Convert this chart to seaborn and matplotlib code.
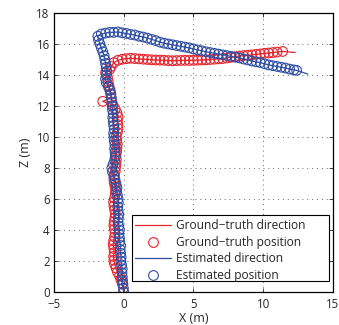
import matplotlib
matplotlib.use("Agg")
import matplotlib.pyplot as plt
import seaborn as sns
import pandas as pd
from matplotlib.lines import Line2D
from matplotlib.patches import Rectangle

# Ground-truth positions
gt_x = [0.00, -0.10, -0.20, -0.30, -0.45, -0.55, -0.65, -0.70, -0.72, -0.68, -0.70, -0.75, -0.72, -0.65,
        -0.62, -0.66, -0.70, -0.68, -0.62, -0.60, -0.65, -0.70, -0.72, -0.66, -0.60, -0.58, -0.62, -0.68,
        -0.70, -0.65, -0.60, -0.58, -0.55, -0.52, -0.55, -0.50, -0.48, -0.45, -0.50, -0.52, -0.45, -0.40,
        -0.42, -0.45, -0.40, -0.48, -0.60, -0.75, -1.50, -0.90, -0.92, -0.98, -1.05, -1.10, -1.15, -1.30,
        -1.00, -0.90, -0.70, -0.40, -0.10,
        0.2, 0.5, 0.8, 1.1, 1.4, 1.7, 2.0, 2.3, 2.6, 2.9, 3.2, 3.5, 3.8, 4.1, 4.4, 4.7, 5.0, 5.3, 5.6,
        5.9, 6.2, 6.5, 6.8, 7.1, 7.4, 7.7, 8.0, 8.3, 8.6, 8.9, 9.2, 9.5, 9.8, 10.1, 10.4, 10.7, 11.0, 11.4]
gt_z = [0.00, 0.55, 0.80, 1.05, 1.30, 1.55, 1.80, 2.05, 2.30, 2.55, 2.80, 3.05, 3.30, 3.55,
        3.80, 4.05, 4.30, 4.55, 4.80, 5.05, 5.30, 5.55, 5.80, 6.05, 6.30, 6.55, 6.80, 7.05,
        7.30, 7.55, 7.80, 8.05, 8.30, 8.55, 8.80, 9.05, 9.30, 9.55, 9.80, 10.05, 10.30, 10.55,
        10.80, 11.05, 11.30, 11.55, 11.80, 12.05, 12.30, 12.55, 12.80, 13.05, 13.30, 13.55, 13.80, 14.15,
        14.35, 14.55, 14.80, 14.95, 15.02,
        15.05, 15.08, 15.06, 15.04, 15.02, 15.00, 14.98, 14.97, 14.96, 14.95, 14.93, 14.92, 14.93, 14.94,
        14.95, 14.94, 14.95, 14.96, 14.97, 14.98, 15.00, 15.02, 15.04, 15.06, 15.10, 15.14, 15.18, 15.22,
        15.25, 15.28, 15.30, 15.33, 15.36, 15.40, 15.42, 15.45, 15.48, 15.52]
gt_tip_x = [12.3]
gt_tip_z = [15.45]

# Estimated positions
est_x = [0.00, -0.02, -0.05, -0.08, -0.10, -0.12, -0.10, -0.15, -0.20, -0.18, -0.22, -0.25, -0.22, -0.28,
         -0.30, -0.35, -0.30, -0.35, -0.40, -0.38, -0.35, -0.40, -0.42, -0.38, -0.40, -0.45, -0.50, -0.48,
         -0.55, -0.62, -0.70, -0.80, -0.85, -0.75, -0.65, -0.60, -0.62, -0.65, -0.62, -0.68, -0.70, -0.72,
         -0.68, -0.72, -0.75, -0.78, -0.75, -0.80, -0.82, -0.85, -0.88, -0.92, -0.98, -1.10, -1.25, -1.30,
         -1.25, -1.20, -1.25, -1.30, -1.35, -1.40, -1.50, -1.60, -1.70, -1.80, -1.85, -1.60, -1.30, -1.00,
         -0.70,
         -0.4, -0.1, 0.2, 0.5, 0.8, 1.1, 1.4, 1.7, 2.0, 2.3, 2.6, 2.9, 3.2, 3.5, 3.8, 4.1, 4.4, 4.7, 5.0,
         5.3, 5.6, 5.9, 6.2, 6.5, 6.8, 7.1, 7.4, 7.7, 8.0, 8.3, 8.6, 8.9, 9.2, 9.5, 9.8, 10.1, 10.4, 10.7,
         11.0, 11.3, 11.6, 11.9, 12.2, 12.4]
est_z = [0.00, 0.25, 0.50, 0.75, 1.00, 1.25, 1.50, 1.75, 2.00, 2.25, 2.50, 2.75, 3.00, 3.25,
         3.50, 3.75, 4.00, 4.25, 4.50, 4.75, 5.00, 5.25, 5.50, 5.75, 6.00, 6.25, 6.50, 6.75,
         7.00, 7.25, 7.50, 7.75, 8.00, 8.25, 8.50, 8.75, 9.00, 9.25, 9.50, 9.75, 10.00, 10.25,
         10.50, 10.75, 11.00, 11.25, 11.50, 11.75, 12.00, 12.25, 12.50, 12.75, 13.00, 13.25, 13.50, 13.75,
         14.00, 14.25, 14.50, 14.75, 15.00, 15.25, 15.50, 15.75, 16.00, 16.25, 16.50, 16.65, 16.70, 16.75,
         16.75,
         16.78, 16.72, 16.68, 16.62, 16.58, 16.50, 16.45, 16.38, 16.30, 16.22, 16.12, 16.05, 16.00, 15.95,
         15.90, 15.85, 15.80, 15.75, 15.68, 15.62, 15.56, 15.50, 15.45, 15.40, 15.35, 15.30, 15.25, 15.20,
         15.15, 15.10, 15.03, 14.97, 14.90, 14.85, 14.80, 14.72, 14.65, 14.60, 14.55, 14.50, 14.45, 14.38,
         14.33, 14.30]
est_tip_x = [13.2]
est_tip_z = [14.06]

x_ticks = [-5, 0, 5, 10, 15]
z_ticks = [0, 2, 4, 6, 8, 10, 12, 14, 16, 18]
legend_labels = ["Ground\u2212truth direction", "Ground\u2212truth position",
                 "Estimated direction", "Estimated position"]

RED = "#e8232b"
BLUE = "#2f4fa3"

sns.set_style("ticks")
plt.rcParams["font.family"] = ["Open Sans", "DejaVu Sans"]

fig = plt.figure(figsize=(3.39, 3.25), dpi=100)
ax = fig.add_axes([0.159, 0.1015, 0.823, 0.8585])

gt_line = pd.DataFrame({"x": gt_x + gt_tip_x, "z": gt_z + gt_tip_z})
est_line = pd.DataFrame({"x": est_x + est_tip_x, "z": est_z + est_tip_z})
gt_pos = pd.DataFrame({"x": gt_x, "z": gt_z})
est_pos = pd.DataFrame({"x": est_x, "z": est_z})

ax.scatter(gt_pos["x"], gt_pos["z"], s=48, facecolors="none", edgecolors=RED, linewidths=0.8, zorder=3)
sns.lineplot(data=gt_line, x="x", y="z", sort=False, estimator=None, color=RED, lw=0.9, ax=ax, zorder=4)
ax.scatter(est_pos["x"], est_pos["z"], s=48, facecolors="none", edgecolors=BLUE, linewidths=0.8, zorder=5)
sns.lineplot(data=est_line, x="x", y="z", sort=False, estimator=None, color=BLUE, lw=0.9, ax=ax, zorder=6)

ax.set_xlim(-5, 15)
ax.set_ylim(0, 18)
ax.set_xticks(x_ticks)
ax.set_yticks(z_ticks)
ax.set_xticklabels([str(t).replace("-", "\u2212") for t in x_ticks])
ax.set_xlabel("X (m)", fontsize=9, labelpad=1)
ax.set_ylabel("Z (m)", fontsize=9, labelpad=3)
ax.tick_params(direction="in", top=True, right=True, labelsize=8.3, length=3, width=0.6)
ax.tick_params(axis="x", pad=4)
ax.tick_params(axis="y", pad=3)
ax.grid(True, linestyle=(0, (1, 4)), color="#666666", linewidth=0.7)
for s in ax.spines.values():
    s.set_linewidth(0.9)
    s.set_color("black")

# legend box (MATLAB style, wide right padding)
box = Rectangle((0.2796, 0.0394), 0.9857 - 0.2796, 0.276 - 0.0394, transform=ax.transAxes,
                facecolor="white", edgecolor="black", linewidth=0.8, zorder=9)
ax.add_patch(box)

handles = [Line2D([], [], color=RED, lw=0.9),
           Line2D([], [], color=RED, lw=0, marker="o", markerfacecolor="none", markersize=7, markeredgewidth=0.8),
           Line2D([], [], color=BLUE, lw=0.9),
           Line2D([], [], color=BLUE, lw=0, marker="o", markerfacecolor="none", markersize=7, markeredgewidth=0.8)]
leg = ax.legend(handles, legend_labels, loc="center left", bbox_to_anchor=(0.2796, 0.1487),
                fontsize=8.6, frameon=False, borderpad=0.3, labelspacing=0.3, handlelength=3.0,
                handletextpad=0.42, borderaxespad=0)
leg.set_zorder(10)

fig.savefig("out.png", dpi=100)
